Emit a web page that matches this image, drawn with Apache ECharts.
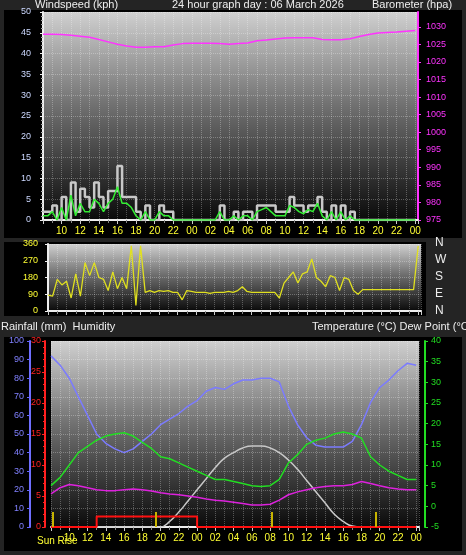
<!DOCTYPE html>
<html><head><meta charset="utf-8">
<script src="https://cdn.jsdelivr.net/npm/echarts@6/dist/echarts.min.js"></script>
<style>html,body{margin:0;padding:0;background:#242424;}#c{width:466px;height:555px;}</style>
</head><body><div id="c"></div>
<script>
// half-hourly from 08:00 day 1 to 00:00 day 3 (hours 8..48)
const windGust = [2,2,3.5,0,5.5,0,9,2,7.5,5.5,3,9,5.5,3,7,7,13,5.5,5.5,5.5,2,0,3.5,0,0,3.5,2,2,0,0,0,0,0,0,0,0,0,0,3.5,0,0,2,0,2,2,0,3.5,3.5,3.5,3.5,2,2,2,5.5,3.5,3.5,2,3.5,3.5,5.5,2,0,3.5,0,3.5,0,2,0,0,0,0,0,0,0,0,0,0,0,0,0,0];
const windAvg = [1,1,2,0,3,0,6,1,4,2,2,5,4,2,4,5,8,4,4,3,1,0,2,0,0,2,1,1,0,0,0,0,0,0,0,0,0,0,2,0,0,1,0,1,1,0,2,2.5,3,2,1,1,1,3.5,3,2,1.5,2.5,2,4,1,0,2,0,2,0,1,0,0,0,0,0,0,0,0,0,0,0,0,0,0];
const windDir = [85,80,170,140,160,70,200,80,260,190,260,180,170,110,210,120,180,120,350,30,350,100,110,100,110,105,110,100,100,60,110,105,100,100,100,95,100,100,100,105,100,110,130,105,100,100,100,100,100,100,70,150,180,210,150,200,210,280,180,160,130,190,180,110,180,170,110,90,115,115,115,115,115,115,115,115,115,115,115,115,350];
// hourly from 08 to 48
const baro = [1027.9,1027.85,1027.8,1027.6,1027.3,1027.0,1026.4,1025.7,1025.0,1024.5,1024.2,1024.2,1024.3,1024.3,1024.8,1025.2,1025.3,1025.3,1025.3,1025.2,1025.0,1025.2,1025.4,1026.0,1026.2,1026.5,1026.8,1026.9,1026.9,1026.9,1026.4,1026.3,1026.3,1026.6,1027.2,1027.8,1028.2,1028.4,1028.5,1028.7,1028.9];
const humidity = [92,87,80,70,60,50,45,42,40,42,46,50,55,58,61,65,68,73,75,74,77,79,79,80,80,78,65,55,48,44,43,43,43,46,55,67,75,79,84,88,87];
const temperature = [5,7,10,13,14.5,16,17,17.5,17.8,17,15.5,14,12,11.5,10.5,9.5,8.5,7.5,6.5,6.5,6,5.5,5,4.8,5,6.5,10.5,12.5,15,16,16.5,17.5,18,17.5,16.5,12,10,8.5,7.5,6.5,6.5];
const dewPoint = [3,4.5,5.3,5,4.5,4,3.8,3.8,4,4.2,4,3.7,3.3,3,2.8,2.5,2.2,1.8,1.5,1.3,1,0.7,0.3,0.3,0.5,1.5,2.8,3.5,4,4.5,4.8,5,5,5.3,6,5.5,5,4.5,4.2,4,4];
const solar = [0,0,0,0,0,0,0,0,0,0,0,0,0,3,8,14,20,26,32,37,40,42.5,43.5,43.5,42.5,40,36,31,25,19,13,7,3,0.5,0,0,0,0,0,0,0];
const rainfall = [0,0,0,0,0,1.7,1.7,1.7,1.7,1.7,1.7,1.7,1.7,1.7,1.7,1.7,0,0,0,0,0,0,0,0,0,0,0,0,0,0,0,0,0,0,0,0,0,0,0,0,0];
const sunEvents = [8.2, 19.5, 32.2, 43.6];
const dirLabels = ['N','W','S','E','N'];

const half = a => a.map((v,i)=>[8+i*0.5, v]);
const hourly = a => a.map((v,i)=>[8+i, v]);
const hh = v => String(((v%24)+24)%24).padStart(2,'0');
const F = 'Liberation Sans, Arial, sans-serif';
const bg = {type:'linear',x:0,y:0,x2:0,y2:1,colorStops:[{offset:0,color:'#d0d0d0'},{offset:0.45,color:'#707070'},{offset:1,color:'#0a0a0a'}]};
const gridLine = {show:true,lineStyle:{color:'rgba(255,255,255,0.28)',type:'dotted',width:1}};
function xAxis(gi, labels){
  return {type:'value',gridIndex:gi,min:8,max:48.3,interval:2,minorTick:{show:true,splitNumber:2,length:3,lineStyle:{color:'#888'}},
    splitLine:gridLine,minorSplitLine:gridLine,
    axisLine:{lineStyle:{color:'#eee',width:2}},axisTick:{show:true,length:4,lineStyle:{color:'#ccc'}},
    axisLabel:{show:labels,color:'#ffff33',fontSize:10,fontFamily:F,showMinLabel:false,showMaxLabel:false,formatter:v=>hh(v),margin:6}};
}
const chart = echarts.init(document.getElementById('c'));
chart.setOption({
  backgroundColor:'#242424',animation:false,
  graphic:[
    {type:'rect',shape:{x:4,y:10,width:458,height:228},style:{fill:'#000'},z:-10},
    {type:'rect',shape:{x:4,y:242,width:422,height:74},style:{fill:'#000'},z:-10},
    {type:'rect',shape:{x:4,y:337,width:458,height:214},style:{fill:'#000'},z:-10},
    {type:'text',left:35,top:-1,style:{text:'Windspeed (kph)',fill:'#eee',font:'11px '+F}},
    {type:'text',left:172,top:-1,style:{text:'24 hour graph day : 06 March 2026',fill:'#eee',font:'11px '+F}},
    {type:'text',left:372,top:-1,style:{text:'Barometer (hpa)',fill:'#eee',font:'11px '+F}},
    {type:'text',left:1,top:321,style:{text:'Rainfall (mm)  Humidity',fill:'#eee',font:'11px '+F}},
    {type:'text',left:312,top:321,style:{text:'Temperature (°C) Dew Point (°C)',fill:'#eee',font:'11px '+F}},
    {type:'text',left:37,top:536,style:{text:'Sun Rise',fill:'#ffff33',font:'10px '+F}},
  ].concat(dirLabels.map((t,i)=>({type:'text',left:435,top:237+i*17,style:{text:t,fill:'#eee',font:'12px '+F}}))),
  grid:[
    {left:43,top:12,width:375,height:208,show:true,backgroundColor:bg,borderWidth:0},
    {left:48,top:244,width:373,height:67,show:true,backgroundColor:bg,borderWidth:0},
    {left:51,top:341,width:368,height:186,show:true,backgroundColor:bg,borderWidth:0}
  ],
  xAxis:[xAxis(0,true),xAxis(1,false),xAxis(2,true)],
  yAxis:[
    {type:'value',gridIndex:0,position:'left',min:0,max:50,interval:5,axisLine:{show:true,lineStyle:{color:'#eee',width:2}},axisTick:{show:true,length:3},minorTick:{show:true,splitNumber:5,length:2,lineStyle:{color:'#aaa'}},
      splitLine:gridLine,axisLabel:{color:'#ccd8ff',fontSize:9,fontFamily:F,margin:12}},
    {type:'value',gridIndex:0,position:'right',min:975,max:1034.2,interval:5,axisLine:{show:true,lineStyle:{color:'#ff33ff',width:2}},axisTick:{show:true,length:3,lineStyle:{color:'#f3f'}},
      splitLine:{show:false},axisLabel:{color:'#ff33ff',fontSize:9,fontFamily:F,showMaxLabel:false,margin:8,formatter:v=>String(v)}},
    {type:'value',gridIndex:1,position:'left',min:0,max:360,interval:90,axisLine:{show:true,lineStyle:{color:'#eee',width:2}},axisTick:{show:true,length:3},
      splitLine:gridLine,axisLabel:{color:'#ffff33',fontSize:9,fontFamily:F,margin:10}},
    {type:'value',gridIndex:2,position:'left',min:0,max:100,interval:10,offset:21,axisLine:{show:true,lineStyle:{color:'#6f6fff',width:2}},axisTick:{show:true,length:3,lineStyle:{color:'#66f'}},
      splitLine:gridLine,axisLabel:{color:'#8080ff',fontSize:9,fontFamily:F,margin:6}},
    {type:'value',gridIndex:2,position:'left',min:0,max:30,interval:5,offset:6,axisLine:{show:true,lineStyle:{color:'#ff2020',width:2}},axisTick:{show:true,length:3,lineStyle:{color:'#f22'}},
      minorTick:{show:true,splitNumber:5,length:2,lineStyle:{color:'#f22'}},splitLine:{show:false},axisLabel:{color:'#ff2020',fontSize:9,fontFamily:F,margin:4}},
    {type:'value',gridIndex:2,position:'right',min:-5,max:40,interval:5,offset:6,axisLine:{show:true,lineStyle:{color:'#22dd22',width:2}},axisTick:{show:true,length:3,lineStyle:{color:'#2d2'}},
      splitLine:{show:false},axisLabel:{color:'#22dd22',fontSize:9,fontFamily:F,margin:6}}
  ],
  series:[
    {type:'line',xAxisIndex:0,yAxisIndex:0,data:half(windGust),step:'end',symbol:'none',lineStyle:{color:'#c8c8c8',width:2.5}},
    {type:'line',xAxisIndex:0,yAxisIndex:0,data:half(windAvg),symbol:'none',lineStyle:{color:'#33ee33',width:1.5}},
    {type:'line',xAxisIndex:0,yAxisIndex:1,data:hourly(baro),symbol:'none',lineStyle:{color:'#ff33ff',width:1.5}},
    {type:'line',xAxisIndex:1,yAxisIndex:2,data:half(windDir),symbol:'none',lineStyle:{color:'#e0e020',width:1.3}},
    {type:'line',xAxisIndex:2,yAxisIndex:3,data:hourly(humidity),symbol:'none',lineStyle:{color:'#7b7bff',width:1.5},
      markLine:{symbol:'none',silent:true,label:{show:false},lineStyle:{color:'#c8b400',width:2,type:'solid'},
        data:sunEvents.map(t=>[{coord:[t,0]},{coord:[t,8]}])}},
    {type:'line',xAxisIndex:2,yAxisIndex:3,data:hourly(solar),symbol:'none',smooth:true,lineStyle:{color:'#c8c8c8',width:1.5}},
    {type:'line',xAxisIndex:2,yAxisIndex:5,data:hourly(temperature),symbol:'none',lineStyle:{color:'#22dd22',width:1.5}},
    {type:'line',xAxisIndex:2,yAxisIndex:5,data:hourly(dewPoint),symbol:'none',lineStyle:{color:'#dd22dd',width:1.5}},
    {type:'line',xAxisIndex:2,yAxisIndex:4,data:hourly(rainfall),step:'end',symbol:'none',lineStyle:{color:'#ff1010',width:2}}
  ]
});
</script></body></html>
